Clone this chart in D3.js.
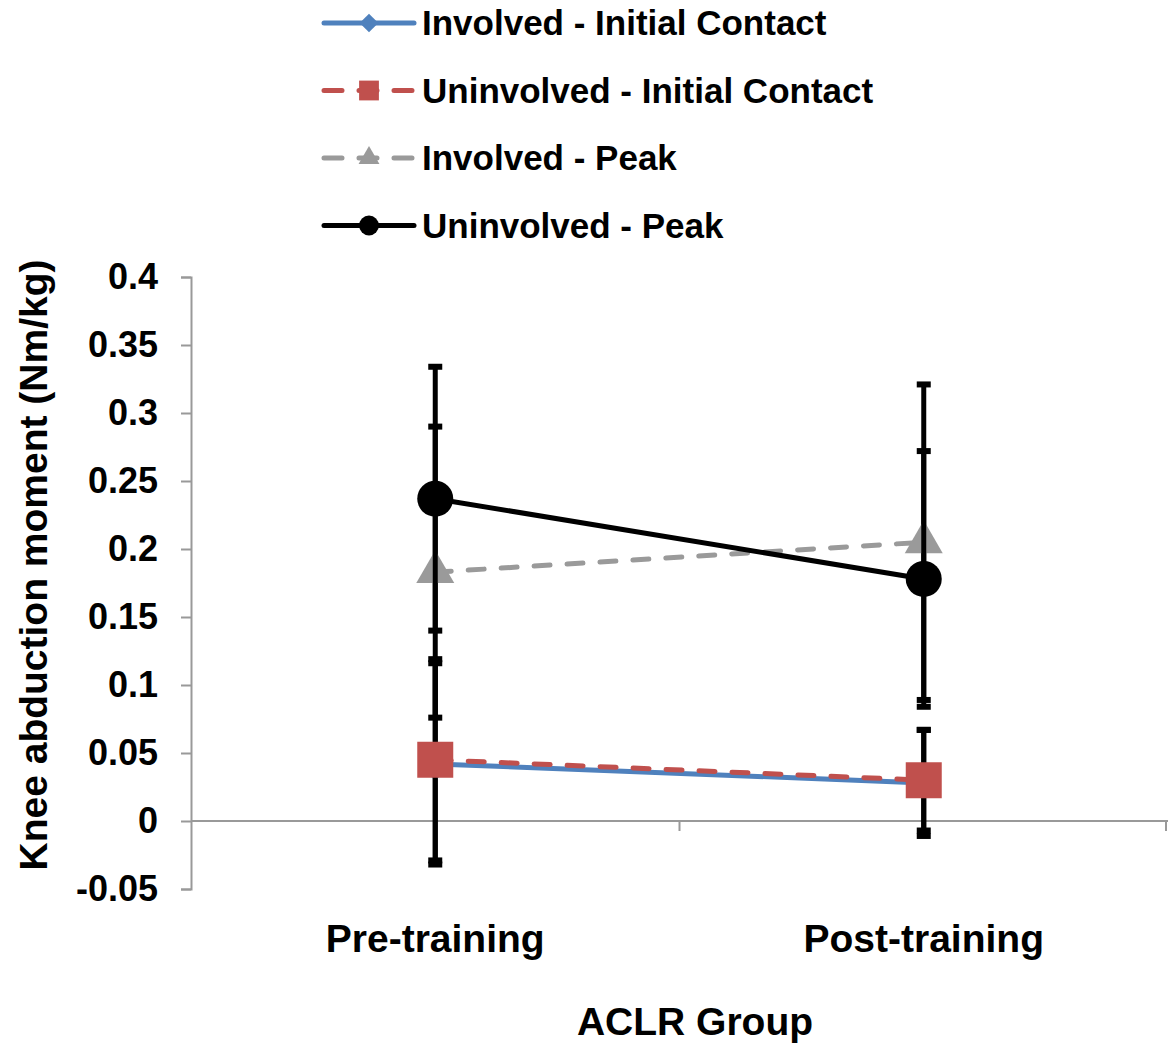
<!DOCTYPE html>
<meta charset="utf-8">
<style>
  body { margin: 0; background: #fff; }
  text { font-family: "Liberation Sans", Arial, sans-serif; font-weight: bold; fill: #000; }
</style>
<body>
<script src="https://cdn.jsdelivr.net/npm/d3@7"></script>
<script>
var categories = ["Pre-training", "Post-training"];
var seriesNames = ["Involved - Initial Contact", "Uninvolved - Initial Contact", "Involved - Peak", "Uninvolved - Peak"];
var involvedIC = [0.042, 0.028];
var involvedICErr = [0.074, 0.039];
var uninvolvedIC = [0.045, 0.030];
var uninvolvedICErr = [0.074, 0.037];
var involvedPeak = [0.183, 0.205];
var involvedPeakErr = [0.107, 0.116];
var uninvolvedPeak = [0.237, 0.178];
var uninvolvedPeakErr = [0.097, 0.094];
var yTicks = [-0.05, 0, 0.05, 0.1, 0.15, 0.2, 0.25, 0.3, 0.35, 0.4];
var yTickLabels = ["-0.05", "0", "0.05", "0.1", "0.15", "0.2", "0.25", "0.3", "0.35", "0.4"];

var width = 1168, height = 1046;
var plotLeft = 191, plotRight = 1168, plotTop = 277, plotBottom = 889;

var series = [
  { name: seriesNames[0], values: involvedIC, err: involvedICErr, color: "#4f81bd", dash: null, shape: "diamond" },
  { name: seriesNames[1], values: uninvolvedIC, err: uninvolvedICErr, color: "#c0504d", dash: "16,17", shape: "square" },
  { name: seriesNames[2], values: involvedPeak, err: involvedPeakErr, color: "#9a9a9a", dash: "16,17", shape: "triangle" },
  { name: seriesNames[3], values: uninvolvedPeak, err: uninvolvedPeakErr, color: "#000", dash: null, shape: "circle" }
];

var x = d3.scaleBand().domain(categories).range([plotLeft, plotRight]);
var y = d3.scaleLinear().domain([-0.05, 0.4]).range([plotBottom, plotTop]);
var cx = function(c) { return x(c) + x.bandwidth() / 2; };

var svg = d3.select("body").append("svg")
  .attr("width", width)
  .attr("height", height);

// y axis
var yAxis = svg.append("g")
  .attr("transform", "translate(" + plotLeft + ",0)")
  .call(d3.axisLeft(y).tickValues(yTicks).tickSize(10).tickPadding(23)
    .tickFormat(function(d, i) { return yTickLabels[i]; }));
yAxis.select(".domain").attr("stroke", "#999").attr("stroke-width", 2);
yAxis.selectAll(".tick line").attr("stroke", "#999").attr("stroke-width", 2);
yAxis.selectAll(".tick text").style("font-size", "36px").attr("fill", "#000");

// x axis at zero
var bounds = categories.map(function(c) { return x(c); }).concat([x.range()[1] - 2]);
svg.append("line")
  .attr("x1", plotLeft).attr("x2", plotRight)
  .attr("y1", y(0)).attr("y2", y(0))
  .attr("stroke", "#999").attr("stroke-width", 2);
svg.selectAll(".xtick").data(bounds.slice(1)).enter().append("line")
  .attr("x1", function(d) { return d; }).attr("x2", function(d) { return d; })
  .attr("y1", y(0)).attr("y2", y(0) + 10)
  .attr("stroke", "#999").attr("stroke-width", 2);

svg.selectAll(".xlabel").data(categories).enter().append("text")
  .attr("x", cx).attr("y", 952)
  .attr("text-anchor", "middle")
  .style("font-size", "39px")
  .text(function(d) { return d; });

svg.append("text")
  .attr("x", 695).attr("y", 1035)
  .attr("text-anchor", "middle")
  .style("font-size", "39px")
  .text("ACLR Group");

svg.append("text")
  .attr("transform", "translate(47,565) rotate(-90)")
  .attr("text-anchor", "middle")
  .style("font-size", "39px")
  .text("Knee abduction moment (Nm/kg)");

function symbolPath(shape, big) {
  var k = big ? 1 : 0.55;
  if (shape === "circle") return d3.symbol(d3.symbolCircle, Math.PI * Math.pow(18 * k, 2))();
  if (shape === "square") return d3.symbol(d3.symbolSquare, Math.pow(36 * k, 2))();
  if (shape === "triangle") return d3.symbol(d3.symbolTriangle, Math.sqrt(3) / 4 * Math.pow(38 * k, 2))();
  return d3.symbol(d3.symbolSquare, Math.pow(24 * k, 2))();
}

var line = d3.line()
  .x(function(d, i) { return cx(categories[i]); })
  .y(function(d) { return y(d); });

series.forEach(function(s) {
  var g = svg.append("g");
  g.append("path")
    .attr("d", line(s.values))
    .attr("fill", "none")
    .attr("stroke", s.color)
    .attr("stroke-width", 5)
    .attr("stroke-linecap", "round")
    .attr("stroke-dasharray", s.dash);

  var bars = g.selectAll(".err").data(s.values).enter().append("g");
  bars.append("line")
    .attr("x1", function(d, i) { return cx(categories[i]); })
    .attr("x2", function(d, i) { return cx(categories[i]); })
    .attr("y1", function(d, i) { return y(d + s.err[i]); })
    .attr("y2", function(d, i) { return y(d - s.err[i]); })
    .attr("stroke", "#000").attr("stroke-width", 5);
  [1, -1].forEach(function(sign) {
    bars.append("rect")
      .attr("x", function(d, i) { return cx(categories[i]) - 7; })
      .attr("y", function(d, i) { return y(d + sign * s.err[i]) - 3; })
      .attr("width", 14).attr("height", 6)
      .attr("fill", "#000");
  });

  g.selectAll(".mark").data(s.values).enter().append("path")
    .attr("d", symbolPath(s.shape, true))
    .attr("transform", function(d, i) {
      return "translate(" + cx(categories[i]) + "," + y(d) + ")" + (s.shape === "diamond" ? " rotate(45)" : "");
    })
    .attr("fill", s.color);
});

// legend
var legend = svg.selectAll(".legend").data(series).enter().append("g")
  .attr("transform", function(d, i) { return "translate(324," + (23 + i * 67.5) + ")"; });
legend.append("line")
  .attr("x1", 0).attr("x2", 90)
  .attr("stroke", function(d) { return d.color; })
  .attr("stroke-width", 5)
  .attr("stroke-linecap", "round")
  .attr("stroke-dasharray", function(d) { return d.dash ? "18,17" : null; });
legend.append("path")
  .attr("d", function(d) { return symbolPath(d.shape, false); })
  .attr("transform", function(d) { return "translate(45,0)" + (d.shape === "diamond" ? " rotate(45)" : ""); })
  .attr("fill", function(d) { return d.color; });
legend.append("text")
  .attr("x", 98).attr("dy", "0.35em")
  .style("font-size", "35px")
  .text(function(d) { return d.name; });
</script>
</body>
